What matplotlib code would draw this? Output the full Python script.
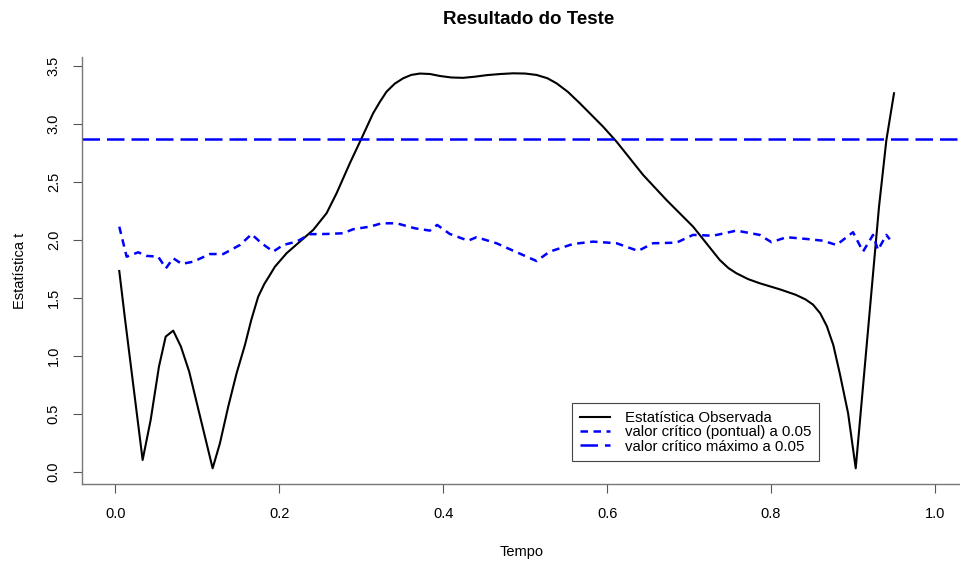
import numpy as np
import matplotlib.pyplot as plt

plt.rcParams['font.family'] = ['Liberation Sans', 'DejaVu Sans']

# estatistica t observada
tempo_obs = [0.0049, 0.0118, 0.0334, 0.0432, 0.0533, 0.0615, 0.0707, 0.0801, 0.0902,
             0.1188, 0.1277, 0.1378, 0.1480, 0.1582, 0.1660, 0.1744, 0.1820, 0.1887,
             0.1948, 0.2090, 0.2252, 0.2415, 0.2578, 0.2700, 0.2862, 0.3005, 0.3146,
             0.3230, 0.3310, 0.3410, 0.3512, 0.3610, 0.3716, 0.3840, 0.3960, 0.4100,
             0.4244, 0.4390, 0.4529, 0.4700, 0.4854, 0.5000, 0.5139, 0.5270, 0.5383,
             0.5520, 0.5667, 0.5951, 0.6115, 0.6439, 0.6724, 0.7049, 0.7374, 0.7480,
             0.7578, 0.7720, 0.7862, 0.8106, 0.8300, 0.8420, 0.8512, 0.8600, 0.8680,
             0.8760, 0.8838, 0.8940, 0.9033, 0.9317, 0.9407, 0.9500]
t_obs = [1.730, 1.322, 0.101, 0.446, 0.905, 1.164, 1.216, 1.078, 0.862,
         0.029, 0.245, 0.560, 0.848, 1.092, 1.310, 1.509, 1.620, 1.696,
         1.767, 1.883, 1.983, 2.084, 2.228, 2.400, 2.659, 2.874, 3.090,
         3.190, 3.276, 3.345, 3.391, 3.420, 3.432, 3.428, 3.411, 3.398,
         3.395, 3.405, 3.418, 3.428, 3.434, 3.432, 3.420, 3.392, 3.348,
         3.275, 3.176, 2.974, 2.845, 2.558, 2.342, 2.112, 1.825, 1.755,
         1.710, 1.660, 1.624, 1.572, 1.525, 1.485, 1.440, 1.365, 1.255,
         1.090, 0.848, 0.503, 0.029, 2.284, 2.859, 3.262]

# valor critico pontual
tempo_pont = [0.0049, 0.0139, 0.0280, 0.0383, 0.0524, 0.0618, 0.0707, 0.0810, 0.0951,
              0.1155, 0.1317, 0.1521, 0.1663, 0.1785, 0.1927, 0.2049, 0.2212, 0.2374,
              0.2578, 0.2780, 0.2902, 0.3106, 0.3249, 0.3432, 0.3655, 0.3838, 0.3927,
              0.4082, 0.4305, 0.4407, 0.4651, 0.4854, 0.5139, 0.5301, 0.5585, 0.5829,
              0.6115, 0.6378, 0.6561, 0.6846, 0.7049, 0.7293, 0.7578, 0.7862, 0.8005,
              0.8188, 0.8432, 0.8634, 0.8798, 0.9000, 0.9122, 0.9244, 0.9305, 0.9407,
              0.9448]
crit_pont = [2.112, 1.853, 1.891, 1.860, 1.853, 1.753, 1.840, 1.791, 1.810,
             1.876, 1.876, 1.954, 2.047, 1.969, 1.897, 1.954, 1.983, 2.047,
             2.049, 2.055, 2.090, 2.112, 2.141, 2.141, 2.098, 2.078, 2.127,
             2.049, 1.991, 2.021, 1.969, 1.905, 1.816, 1.897, 1.963, 1.983,
             1.969, 1.903, 1.969, 1.974, 2.041, 2.034, 2.078, 2.041, 1.978,
             2.021, 2.006, 1.991, 1.954, 2.064, 1.897, 2.041, 1.911, 2.041,
             2.003]

crit_max = 2.87

fig = plt.figure(figsize=(9.6, 5.63), dpi=100)
ax = fig.add_axes([82.3 / 960, 1 - 484.3 / 563, 1 - 82.3 / 960, (484.3 - 57.3) / 563])

ax.plot(tempo_obs, t_obs, color='black', lw=1.5, label='Estatística Observada')
ax.plot(tempo_pont, crit_pont, color='blue', lw=1.8, dashes=(3, 2.2),
        label='valor crítico (pontual) a 0.05')
ax.axhline(crit_max, color='blue', lw=1.8, dashes=(7, 2.8),
           label='valor crítico máximo a 0.05')

ax.set_xlim(-0.0402, 1.0305)
ax.set_ylim(-0.109, 3.572)
ax.set_xticks([0.0, 0.2, 0.4, 0.6, 0.8, 1.0])
ax.set_yticks([0.0, 0.5, 1.0, 1.5, 2.0, 2.5, 3.0, 3.5])
ax.set_xticklabels(['0.0', '0.2', '0.4', '0.6', '0.8', '1.0'])
ax.set_yticklabels(['0.0', '0.5', '1.0', '1.5', '2.0', '2.5', '3.0', '3.5'],
                   rotation=90, va='center')
ax.tick_params(direction='out', length=6.5, width=0.8, colors='#555555',
               labelcolor='black', labelsize=10.5, pad=9)
ax.tick_params(axis='x', pad=10)
for s in ['top', 'right']:
    ax.spines[s].set_visible(False)
for s in ['left', 'bottom']:
    ax.spines[s].set_color('#777777')
    ax.spines[s].set_linewidth(1.0)

ax.set_xlabel('Tempo', fontsize=10.5, labelpad=17)
ax.set_ylabel('Estatística t', fontsize=10.5, labelpad=14)
fig.text(529 / 960, 1 - 19 / 563, 'Resultado do Teste',
         fontsize=13.5, fontweight='bold', ha='center', va='center')

leg = ax.legend(loc='upper left', bbox_to_anchor=(572.3 / 960, 1 - 403.3 / 563),
                bbox_transform=fig.transFigure, fontsize=10.8, frameon=True,
                fancybox=False, edgecolor='#444444', framealpha=1,
                handlelength=2.0, handletextpad=1.0, borderpad=0.5,
                labelspacing=0.03, borderaxespad=0)
leg.get_frame().set_linewidth(0.8)

fig.savefig('out.png', dpi=100)
